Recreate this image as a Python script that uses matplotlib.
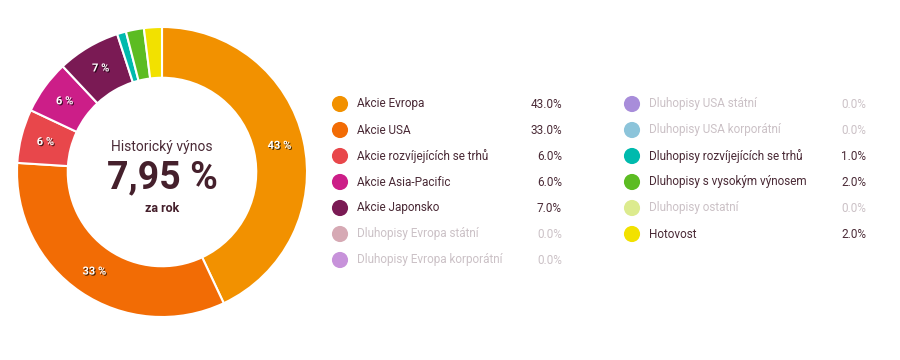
import matplotlib.pyplot as plt
import matplotlib.patheffects as pe
import numpy as np

# Portfolio allocation (percent)
names = [
    "Akcie Evropa", "Akcie USA", "Akcie rozvíjejících se trhů", "Akcie Asia-Pacific",
    "Akcie Japonsko", "Dluhopisy Evropa státní", "Dluhopisy Evropa korporátní",
    "Dluhopisy USA státní", "Dluhopisy USA korporátní", "Dluhopisy rozvíjejících se trhů",
    "Dluhopisy s vysokým výnosem", "Dluhopisy ostatní", "Hotovost",
]
values = [43.0, 33.0, 6.0, 6.0, 7.0, 0.0, 0.0, 0.0, 0.0, 1.0, 2.0, 0.0, 2.0]
colors = [
    "#F29100", "#F26C05", "#E8474B", "#CC1E88", "#7A1A54", "#D6A9B4", "#C792DA",
    "#A88DDA", "#8CC4DA", "#00BAAD", "#5CBC22", "#DCEB8E", "#F2E100",
]
center_title = "Historický výnos"
center_value = "7,95 %"
center_sub = "za rok"

plt.rcParams["font.family"] = ["Roboto", "DejaVu Sans"]
dark = "#4A2A36"
muted = "#CBC1C6"

fig = plt.figure(figsize=(9, 3.6), dpi=100)

# donut
ax = fig.add_axes([17 / 900, 43 / 360, 290 / 900, 290 / 360])
nz = [i for i, v in enumerate(values) if v > 0]
pie_vals = [values[i] for i in nz]
pie_cols = [colors[i] for i in nz]
wedges, _ = ax.pie(pie_vals, colors=pie_cols, startangle=90, counterclock=False,
                   radius=1, wedgeprops=dict(width=0.35, edgecolor="white", linewidth=1.5))
ax.set_xlim(-1, 1)
ax.set_ylim(-1, 1)
ax.set_aspect("equal")
ax.axis("off")

# percentage labels on the bigger slices
cum = 0
for v in pie_vals:
    mid = 90 - (cum + v / 2) / sum(pie_vals) * 360
    cum += v
    if v < 5:
        continue
    r = 0.83
    ax.text(r * np.cos(np.radians(mid)), r * np.sin(np.radians(mid)), f"{v:.0f} %",
            ha="center", va="center", color="white", fontsize=8, fontweight="bold",
            path_effects=[pe.withSimplePatchShadow(offset=(0.8, -0.8), shadow_rgbFace="black", alpha=0.7)])

ax.text(0, 0.17, center_title, ha="center", va="center", fontsize=10, color=dark)
ax.text(0, -0.04, center_value, ha="center", va="center", fontsize=27, fontweight="bold", color="#45202C")
ax.text(0, -0.255, center_sub, ha="center", va="center", fontsize=9, fontweight="bold", color="#45202C")

# legend
lax = fig.add_axes([0, 0, 1, 1])
lax.set_xlim(0, 900)
lax.set_ylim(360, 0)
lax.axis("off")
cols = [(340, 357, 562), (632, 649, 866)]
for i, (n, v, c) in enumerate(zip(names, values, colors)):
    col = 0 if i < 7 else 1
    row = i if i < 7 else i - 7
    y = 104 + row * 26
    cx, tx, vx = cols[col]
    tc = dark if v > 0 else muted
    lax.scatter([cx], [y], s=135, color=c, edgecolors="none")
    lax.text(tx, y, n, ha="left", va="center", fontsize=8.5, color=tc)
    lax.text(vx, y, f"{v:.1f}%", ha="right", va="center", fontsize=8.5, color=tc)

fig.savefig("out.png", dpi=100, facecolor="white")
